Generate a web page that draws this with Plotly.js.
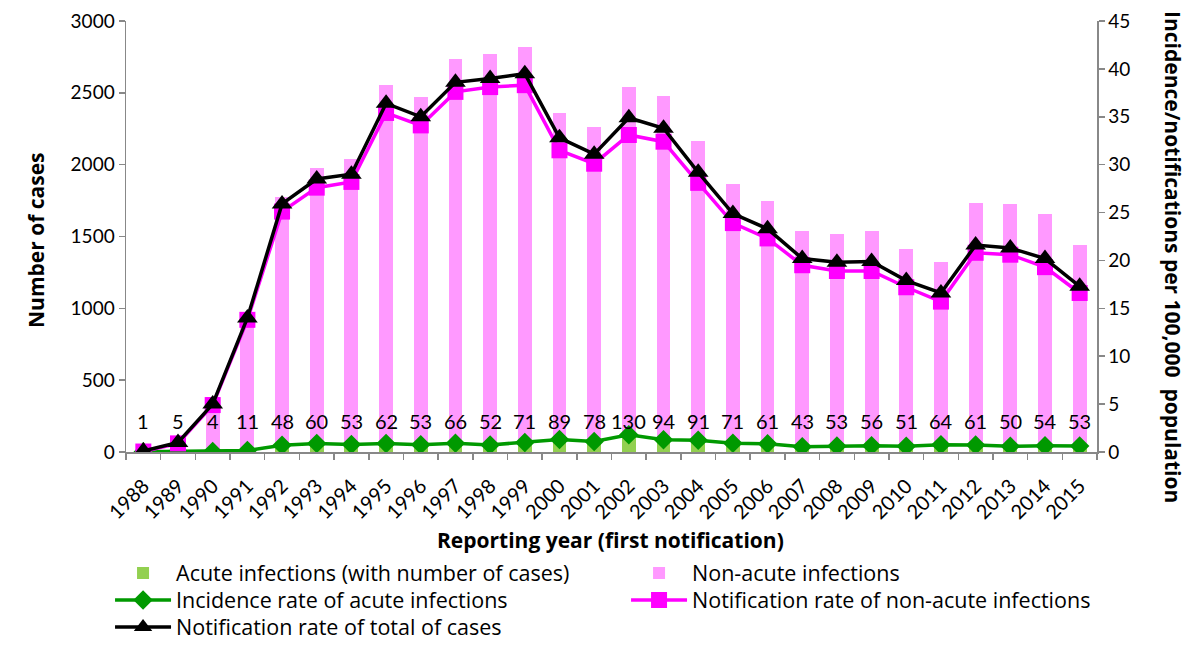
<!DOCTYPE html>
<html>
<head>
<meta charset="utf-8">
<script src="https://cdn.plot.ly/plotly-3.0.1.min.js"></script>
<style>html,body{margin:0;padding:0;background:#fff;}#chart{width:1200px;height:647px;}</style>
</head>
<body>
<div id="chart"></div>
<script>
const years = ['1988','1989','1990','1991','1992','1993','1994','1995','1996','1997','1998','1999','2000','2001','2002','2003','2004','2005','2006','2007','2008','2009','2010','2011','2012','2013','2014','2015'];
const acuteCases = [1,5,4,11,48,60,53,62,53,66,52,71,89,78,130,94,91,71,61,43,53,56,51,64,61,50,54,53];
const nonAcuteCases = [5,70,376,960,1727,1917,1986,2492,2418,2669,2718,2748,2271,2184,2410,2384,2074,1794,1686,1495,1464,1482,1362,1258,1672,1676,1603,1388];
const acuteRate = [0.02,0.07,0.06,0.16,0.7,0.9,0.78,0.88,0.76,0.92,0.74,0.98,1.3,1.1,1.8,1.28,1.22,0.92,0.85,0.55,0.62,0.66,0.6,0.75,0.72,0.6,0.65,0.63];
const nonAcuteRate = [0.05,0.9,4.9,13.8,25.1,27.6,28.2,35.4,34.1,37.6,38.1,38.3,31.5,30.1,33.1,32.4,28.1,23.9,22.3,19.5,18.9,18.9,17.2,15.7,20.8,20.6,19.3,16.6];
const totalRate = [0.1,1.0,5.0,14.0,25.9,28.5,29.0,36.4,35.0,38.6,39.0,39.5,32.8,31.1,34.9,33.8,29.2,24.9,23.3,20.2,19.8,19.9,17.9,16.6,21.6,21.3,20.2,17.3];

const FONT = 'Lato, "Open Sans", sans-serif';
const TFONT = '"Open Sans", Lato, sans-serif';

const traces = [
  {type:'bar', x:years, y:acuteCases, name:'Acute infections (with number of cases)', marker:{color:'#92D050'}, yaxis:'y', legend:'legend'},
  {type:'bar', x:years, y:nonAcuteCases, name:'Non-acute infections', marker:{color:'#FF99FF'}, yaxis:'y', legend:'legend2'},
  {type:'scatter', mode:'lines+markers', x:years, y:acuteRate, name:'Incidence rate of acute infections', yaxis:'y2', legend:'legend3',
   line:{color:'#009900', width:3.5}, marker:{symbol:'diamond', size:15, color:'#009900'}},
  {type:'scatter', mode:'lines+markers', x:years, y:nonAcuteRate, name:'Notification rate of non-acute infections', yaxis:'y2', legend:'legend4',
   line:{color:'#FF00FF', width:3.5}, marker:{symbol:'square', size:16, color:'#FF00FF'}},
  {type:'scatter', mode:'lines+markers', x:years, y:totalRate, name:'Notification rate of total of cases', yaxis:'y2', legend:'legend5',
   line:{color:'#000000', width:3.5}, marker:{symbol:'triangle-up', size:18, color:'#000000'}}
];

const annotations = years.map((yr,i)=>({
  x: i, y: 215, xref:'x', yref:'y', text: String(acuteCases[i]), showarrow:false,
  font:{family:FONT, size:20, color:'#000'}, xanchor:'center', yanchor:'middle'
}));
annotations.push({xref:'paper', yref:'paper', x:-0.0927, y:0.4919, xanchor:'center', yanchor:'middle', text:'<b>Number of cases</b>', textangle:-90, showarrow:false, font:{family:TFONT, size:21, color:'#000'}});
annotations.push({xref:'paper', yref:'paper', x:1.0783, y:0.4524, xanchor:'center', yanchor:'middle', text:'<b>Incidence/notifications per 100,000  population</b>', textangle:90, showarrow:false, font:{family:TFONT, size:21, color:'#000'}});
annotations.push({xref:'paper', yref:'paper', x:0.4985, y:-0.2042, xanchor:'center', yanchor:'middle', text:'<b>Reporting year (first notification)</b>', showarrow:false, font:{family:TFONT, size:21, color:'#000'}});

function leg(x, yPx){
  return {orientation:'v', xref:'container', yref:'container', x:x, y:1 - yPx/647, xanchor:'left', yanchor:'middle',
    itemwidth:56, font:{family:TFONT, size:21.5, color:'#000'}, bgcolor:'rgba(0,0,0,0)', borderwidth:0};
}

const layout = {
  width:1200, height:647,
  margin:{l:126, r:103, t:21, b:195, autoexpand:false},
  paper_bgcolor:'#fff', plot_bgcolor:'#fff',
  font:{family:FONT, size:19, color:'#000'},
  barmode:'stack', bargap:0.6,
  showlegend:true,
  legend: leg(0.0917, 573),
  legend2: leg(0.5217, 573),
  legend3: leg(0.0917, 600),
  legend4: leg(0.5217, 600),
  legend5: leg(0.0917, 627),
  xaxis:{type:'category', range:[-0.5,27.5], autorange:false, showline:true, linecolor:'#888', linewidth:1.5, ticks:'outside', tickson:'boundaries', ticklen:6, tickcolor:'#888', tickwidth:1.5,
    tickangle:-45, ticklabelstandoff:13, tickfont:{family:FONT, size:20, color:'#000'}, showgrid:false, zeroline:false, fixedrange:true},
  yaxis:{range:[0,3000], dtick:500, showline:true, linecolor:'#888', linewidth:1.5, ticks:'outside', ticklen:6, tickcolor:'#888', tickwidth:1.5,
    showgrid:false, zeroline:false, tickfont:{family:FONT, size:19, color:'#000'}},
  yaxis2:{range:[0,45], dtick:5, overlaying:'y', side:'right', showline:true, linecolor:'#888', linewidth:1.5, ticks:'outside', ticklen:6, tickcolor:'#888', tickwidth:1.5,
    showgrid:false, zeroline:false, tickfont:{family:FONT, size:19, color:'#000'}},
  annotations: annotations
};

Plotly.newPlot('chart', traces, layout, {displayModeBar:false, staticPlot:true});
</script>
</body>
</html>
